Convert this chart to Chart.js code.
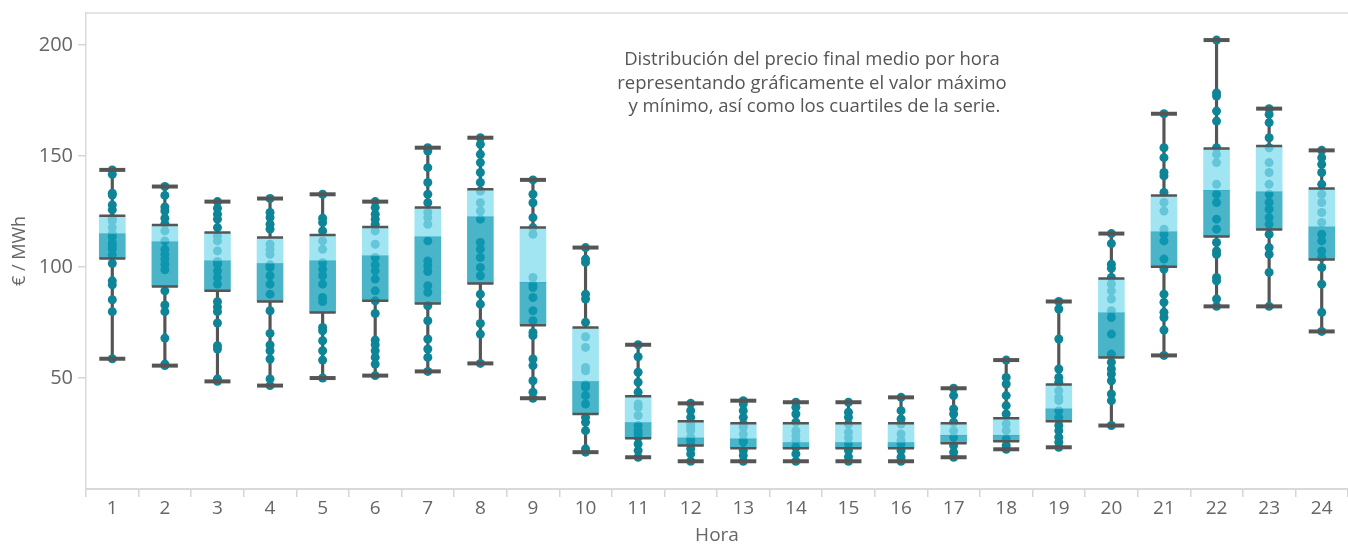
<!DOCTYPE html>
<html lang="es">
<head>
<meta charset="utf-8">
<title>Precio final medio por hora</title>
<script src="https://cdn.jsdelivr.net/npm/chart.js@4/dist/chart.umd.min.js"></script>
<style>
  html, body { margin: 0; padding: 0; background: #fff; }
  #wrap { position: relative; width: 1348px; height: 545px; }
  #note {
    position: absolute; left: 562px; top: 46px; width: 500px;
    text-align: center; font-family: "Open Sans", sans-serif; font-size: 18.5px;
    line-height: 23.5px; color: #555; white-space: pre;
  }
</style>
</head>
<body>
<div id="wrap">
  <canvas id="c" width="1348" height="545"></canvas>
  <div id="note">Distribución del precio final medio por hora
representando gráficamente el valor máximo
 y mínimo, así como los cuartiles de la serie.</div>
</div>
<script>
// Hours of the day
const hours = ['1','2','3','4','5','6','7','8','9','10','11','12','13','14','15','16','17','18','19','20','21','22','23','24'];

// Box statistics per hour (€/MWh)
const minV = [58.7,55.6,48.5,46.6,50.0,51.1,53.0,56.6,40.9,16.6,14.3,12.5,12.5,12.5,12.5,12.5,14.3,17.9,18.8,28.6,60.2,82.3,82.3,71.0];
const q1V  = [103.9,91.3,89.3,84.5,79.5,84.8,83.6,92.6,73.8,33.8,22.9,19.6,18.4,18.4,18.4,18.4,20.6,21.5,30.5,59.3,100.1,113.8,116.9,103.4];
const medV = [115.0,111.4,102.8,101.6,102.8,105.1,113.6,122.6,93.1,48.4,29.9,23.0,22.6,20.9,20.9,20.9,24.2,24.2,36.1,79.4,115.9,134.6,133.9,118.1];
const q3V  = [123.1,119.0,115.6,113.3,114.5,118.1,126.8,135.1,117.8,72.8,41.8,30.5,29.6,29.6,29.6,29.6,29.6,31.9,47.1,94.9,132.3,153.4,154.6,135.4];
const maxV = [143.8,136.3,129.5,130.9,132.8,129.5,153.8,158.3,139.3,108.8,65.0,38.6,39.8,39.1,39.1,41.3,45.4,58.1,84.5,115.1,169.1,202.3,171.4,152.6];

// Daily prices per hour
const h1  = [143.8,141.8,133.3,132.5,128,125.8,122,120.8,117.8,115,113.6,111,109.5,108,105.5,101.6,93.8,92,85.3,79.9,58.7];
const h2  = [136.3,132.3,127.1,125.3,122,119.5,116.3,111.8,108,105.8,103.6,101.3,98.8,89.3,82.9,79.9,68,56.3,55.6];
const h3  = [129.5,126.5,123.8,121.6,117.8,114,111.8,107.3,102.5,101.3,98.3,95.3,92.3,84.4,82,79.9,74.8,64.6,63.1,49.6,48.5];
const h4  = [130.9,124.6,122.3,119.3,117.1,110.3,108,105.8,101,99.8,96.1,92.3,87.8,80.3,70.1,64.9,62.3,58.6,49.6,46.6];
const h5  = [132.8,122,120.1,116.3,111.8,108,102,99,96.1,92.3,86.3,84.5,72.8,71.3,66.8,62.3,58.1,50.0];
const h6  = [129.5,126.8,123.8,121.6,119.3,116.3,110.3,104.3,101,98.3,94.6,89.3,84.8,79.1,67.1,65,62.3,59.3,56.3,51.1];
const h7  = [153.8,152.3,144.8,138.1,132.8,129,124.6,122.3,119.3,111.8,102.8,100.6,98,91.6,88.6,82.6,75.8,67.6,63.1,59.3,53.0];
const h8  = [158.3,155.3,150.8,147.1,142.6,138.1,134.3,129,125.3,121.6,111.1,108.1,104.3,99.8,96.1,87.8,83.3,74.6,69.8,56.6];
const h9  = [139.3,132.8,129,122.3,117.8,114.8,95.3,92,90.8,86.3,80.3,75.8,70.5,69.1,58.6,55.6,48.8,43.6,40.9];
const h10 = [108.8,103.6,102.1,87.8,85.6,75.1,68.6,63.8,54.8,53.3,47,45.8,42.1,38.3,32.3,30.1,26.3,18.1,16.6];
const h11 = [65,59.6,52.6,48.1,43.6,38.3,36.8,33.1,28.6,26.3,24.8,23.3,20.3,17.3,14.3];
const h12 = [38.6,35.3,32.3,29.3,27.8,26.3,23.3,22,20.3,18.1,15.8,12.5];
const h13 = [39.8,38.3,35.3,32.3,29.3,27.8,24.8,22,21.1,17.3,15.1,12.5];
const h14 = [39.1,36.8,33.8,30.1,26.3,24,21.8,18.8,15.8,12.5];
const h15 = [39.1,34.6,32.3,29.3,25.6,23,20.3,17.3,14.5,12.5];
const h16 = [41.3,35.3,31.6,29.3,24.8,22,20.3,17.3,14.3,12.5];
const h17 = [45.4,42.1,36.1,33.8,30.1,26.3,23.3,19.6,16.6,14.3];
const h18 = [58.1,50.3,47.3,42.1,37.6,33.8,29.3,26.3,22.6,19.6,17.9];
const h19 = [84.5,81.1,67.6,54.1,50.3,48.1,44.3,41.3,39.8,35.3,32.3,28.6,26.3,23.3,21.1,18.8];
const h20 = [115.1,110.6,101.3,99.5,95.3,92.3,89.3,85.6,80.3,77.3,69.8,60.8,57.1,54.1,51.8,48.8,42.8,39.8,28.6];
const h21 = [169.1,153.8,149.3,142.6,141.1,133.6,129.1,125.3,117.1,114.8,111.8,103.6,99.1,87.8,84.1,79.6,77.3,71.6,60.2];
const h22 = [202.3,178.5,177.1,170.3,165.8,153.8,150.8,147.1,137.3,132.8,129.1,121.6,117.1,111.1,107.3,105.8,95.3,93.8,85.6,82.3];
const h23 = [171.4,168.8,165.1,158.3,153.8,147.1,142.6,137.3,132.8,129.1,126.1,122.3,119.3,114.8,108.8,105.8,97.6,82.3];
const h24 = [152.6,149.3,146.3,142.6,137.3,132.8,129.1,124.6,120.1,114.8,111.8,107.3,104.3,99.8,92.3,79.6,71.0];

const yTicks = [50, 100, 150, 200];

const daily = [h1,h2,h3,h4,h5,h6,h7,h8,h9,h10,h11,h12,h13,h14,h15,h16,h17,h18,h19,h20,h21,h22,h23,h24];
const dotPoints = [];
daily.forEach((vals, i) => vals.forEach(v => dotPoints.push({ x: hours[i], y: v })));

const quartilePts = [];
const capPts = [];
hours.forEach((h, i) => {
  quartilePts.push({ x: h, y: q1V[i] }, { x: h, y: q3V[i] });
  capPts.push({ x: h, y: minV[i] }, { x: h, y: maxV[i] });
});

const GREY = '#555555';
const DOT = '#0e8597';
const FONT = '"Open Sans", sans-serif';

// Thin frame line along the top of the plot area
const topFrame = {
  id: 'topFrame',
  afterDraw(chart) {
    const { ctx, chartArea: a } = chart;
    ctx.save();
    ctx.strokeStyle = '#dcdcdc';
    ctx.lineWidth = 1.5;
    ctx.beginPath();
    ctx.moveTo(a.left, a.top);
    ctx.lineTo(a.right, a.top);
    ctx.stroke();
    ctx.restore();
  }
};

new Chart(document.getElementById('c'), {
  type: 'bar',
  data: {
    labels: hours,
    datasets: [
      { type: 'bar', data: hours.map((h, i) => [minV[i], q1V[i]]), backgroundColor: GREY,
        barThickness: 2.5, grouped: false, order: 6 },
      { type: 'bar', data: hours.map((h, i) => [q3V[i], maxV[i]]), backgroundColor: GREY,
        barThickness: 2.5, grouped: false, order: 6 },
      { type: 'line', data: dotPoints, showLine: false, pointRadius: 4.5,
        pointBackgroundColor: DOT, pointBorderWidth: 0, order: 5 },
      { type: 'bar', data: hours.map((h, i) => [q1V[i], medV[i]]), backgroundColor: 'rgba(14,156,183,0.75)',
        barThickness: 26, grouped: false, order: 4 },
      { type: 'bar', data: hours.map((h, i) => [medV[i], q3V[i]]), backgroundColor: 'rgba(129,220,238,0.75)',
        barThickness: 26, grouped: false, order: 4 },
      { type: 'line', data: quartilePts, showLine: false, pointStyle: 'line', pointRadius: 13,
        pointBorderWidth: 2.5, pointBorderColor: GREY, order: 2 },
      { type: 'line', data: capPts, showLine: false, pointStyle: 'line', pointRadius: 13,
        pointBorderWidth: 4, pointBorderColor: GREY, order: 1 }
    ]
  },
  options: {
    responsive: false,
    animation: false,
    devicePixelRatio: 1,
    layout: { autoPadding: false, padding: { top: 13, right: 0, left: 0, bottom: 0 } },
    plugins: { legend: { display: false }, tooltip: { enabled: false } },
    scales: {
      x: {
        offset: true,
        grid: { display: true, drawOnChartArea: false, offset: true, tickLength: 8, color: '#d6d6d6', lineWidth: 1.5 },
        border: { color: '#d9d9d9', width: 2 },
        ticks: { color: '#666', font: { family: FONT, size: 19 }, padding: 0, maxRotation: 0 },
        title: { display: true, text: 'Hora', color: '#666', font: { family: FONT, size: 19, lineHeight: 1 }, padding: 0 },
        afterFit: s => { s.height = 56; s.paddingLeft = 0; s.paddingRight = 0; }
      },
      y: {
        min: 0, max: 214.5,
        afterBuildTicks: s => { s.ticks = yTicks.map(v => ({ value: v })); },
        grid: { drawOnChartArea: false, tickLength: 8, color: '#d6d6d6', lineWidth: 1.5 },
        border: { color: '#d9d9d9', width: 1.5 },
        ticks: { color: '#666', font: { family: FONT, size: 20 }, padding: 5 },
        title: { display: true, text: '€ / MWh', color: '#666', font: { family: FONT, size: 18 }, padding: { top: 9, bottom: 0 } },
        afterFit: s => { s.width = 86; s.paddingTop = 0; s.paddingBottom = 0; }
      }
    }
  },
  plugins: [topFrame]
});
</script>
</body>
</html>
